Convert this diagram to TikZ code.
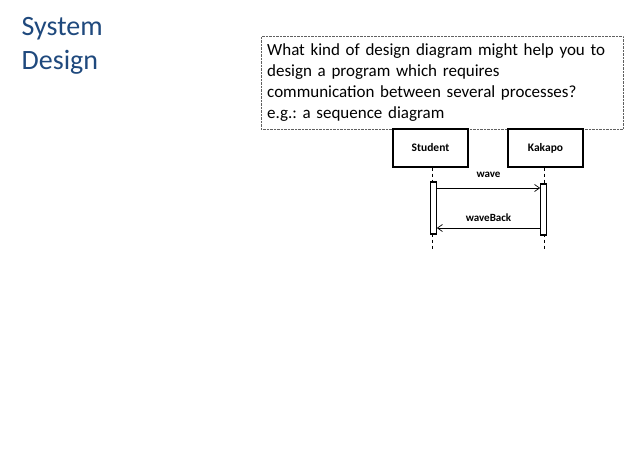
\documentclass[tikz,border=0pt]{standalone}
\usepackage{fontspec}
\setmainfont{Carlito}
\usetikzlibrary{arrows.meta}
\definecolor{titleblue}{HTML}{1F497D}
\definecolor{frame}{HTML}{606060}
\frenchspacing

\begin{document}
\begin{tikzpicture}[x=1pt,y=-1pt,font=\fontsize{17}{21}\selectfont,
 actor/.style={draw,line width=1.3pt,minimum width=75pt,minimum height=38pt,inner sep=0pt,font=\bfseries\fontsize{11.5}{12}\selectfont},
 bar/.style={draw,fill=white,line width=1.2pt,minimum width=5.5pt,inner sep=0pt},
 life/.style={line width=.7pt,dash pattern=on 3pt off 3pt},
 msg/.style={-{Straight Barb[length=5pt,width=7pt]},line width=.7pt},
 msglabel/.style={font=\bfseries\fontsize{11}{12}\selectfont}]
\path[use as bounding box] (0,0) rectangle (630,471);
\node[anchor=west,align=left,text=titleblue,font=\fontsize{28}{34}\selectfont,inner sep=0pt] (title) at (21.5,45.5) {System\\Design};
\node[anchor=north west,draw=frame,densely dotted,text width=350pt,minimum width=362pt,minimum height=93pt,align=left,inner sep=6pt] (question) at (261,36)
 {What kind of design diagram might help you to\\design a program which requires\\communication between several processes?\\e.g.: a sequence diagram};
% lifeline heads and activation bars
\node[actor] (student) at (430.5,148) {Student};
\node[actor] (kakapo) at (545.5,148) {Kakapo};
\coordinate (studentend) at (432.5,249);
\coordinate (kakapoend) at (544.5,251);
\draw[life] (student.south -| studentend) -- (studentend);
\draw[life] (kakapo.south -| kakapoend) -- (kakapoend);
\node[bar,minimum height=52pt] (studentbar) at (433.5,208) {};
\node[bar,minimum height=51pt] (kakapobar) at (543.5,209.5) {};
\draw[msg] (studentbar.east |- 0,188) -- node[msglabel,above=6.5pt] (wavelabel) {wave} (kakapobar.west |- 0,188);
\draw[msg] (kakapobar.west |- 0,228) -- node[msglabel,above=3pt] (backlabel) {waveBack} (studentbar.east |- 0,228);
\end{tikzpicture}
\end{document}
